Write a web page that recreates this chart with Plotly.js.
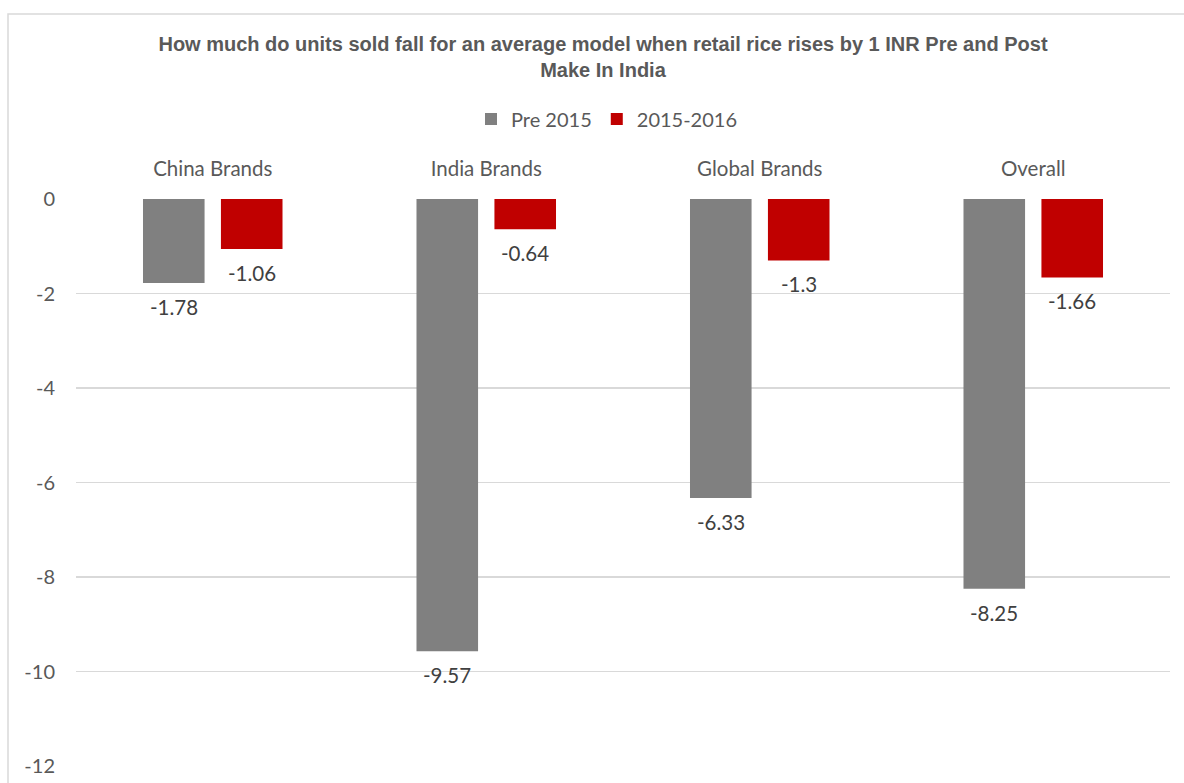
<!DOCTYPE html>
<html>
<head>
<meta charset="utf-8">
<script src="https://cdn.plot.ly/plotly-3.0.1.min.js"></script>
<style>
  html, body { margin: 0; padding: 0; background: #ffffff; }
  #chart { width: 1184px; height: 783px; }
</style>
</head>
<body>
<div id="chart"></div>
<script>
const categories = ["China Brands", "India Brands", "Global Brands", "Overall"];
const seriesNames = ["Pre 2015", "2015-2016"];
const pre2015 = [-1.78, -9.57, -6.33, -8.25];
const y2015_2016 = [-1.06, -0.64, -1.3, -1.66];
const yTickValues = [0, -2, -4, -6, -8, -10, -12];
const yTickLabels = ["0", "-2", "-4", "-6", "-8", "-10", "-12"];

const FONT = "Lato, 'Open Sans', sans-serif";
const labelFont = { family: FONT, size: 20.5, color: "#404040" };

const traces = [
  {
    type: "bar",
    name: seriesNames[0],
    x: categories,
    y: pre2015,
    marker: { color: "#808080" },
    hoverinfo: "x+y"
  },
  {
    type: "bar",
    name: seriesNames[1],
    x: categories,
    y: y2015_2016,
    marker: { color: "#C00000" },
    hoverinfo: "x+y"
  }
];

// data labels below each bar end, placed through the axes
const groupShift = 39;
const annotations = [];
[pre2015, y2015_2016].forEach(function (vals, si) {
  vals.forEach(function (v, i) {
    annotations.push({
      x: categories[i],
      y: v,
      xref: "x",
      yref: "y",
      text: String(v),
      showarrow: false,
      xanchor: "center",
      yanchor: "top",
      xshift: si === 0 ? -groupShift : groupShift,
      yshift: -10,
      font: labelFont
    });
  });
});

const layout = {
  width: 1184,
  height: 783,
  paper_bgcolor: "#ffffff",
  plot_bgcolor: "#ffffff",
  margin: { l: 76, r: 14, t: 199, b: 17 },
  barmode: "group",
  bargap: 0.43,
  bargroupgap: 0.21,
  title: {
    text: "How much do units sold fall for an average model when retail rice rises by 1 INR Pre and Post<br>Make In India",
    font: { family: "'Liberation Sans', Arial, sans-serif", size: 20, color: "#595959", weight: "bold" },
    x: 603 / 1184,
    xref: "container",
    xanchor: "center",
    y: 1 - 51 / 783,
    yref: "container",
    yanchor: "top"
  },
  showlegend: true,
  legend: {
    orientation: "h",
    xref: "container",
    yref: "container",
    x: 607 / 1184,
    xanchor: "center",
    y: 1 - 119 / 783,
    yanchor: "middle",
    font: { family: FONT, size: 20, color: "#595959" },
    itemwidth: 30,
    traceorder: "normal"
  },
  xaxis: {
    side: "top",
    showline: false,
    showgrid: false,
    zeroline: false,
    ticks: "",
    ticklabelstandoff: 18,
    tickfont: { family: FONT, size: 20.5, color: "#595959" },
    fixedrange: true
  },
  yaxis: {
    range: [-12, 0],
    tickvals: yTickValues,
    ticktext: yTickLabels,
    showgrid: true,
    gridcolor: "#d9d9d9",
    gridwidth: 1.5,
    zeroline: false,
    showline: false,
    ticks: "",
    ticklabelstandoff: 20,
    tickfont: { family: FONT, size: 20, color: "#595959" },
    fixedrange: true
  },
  annotations: annotations,
  shapes: [
    {
      type: "rect",
      xref: "paper",
      yref: "paper",
      x0: (8 - 76) / 1094,
      x1: (1200 - 76) / 1094,
      y0: (766 - 800) / 567,
      y1: (766 - 14) / 567,
      line: { color: "#d9d9d9", width: 1.5 },
      fillcolor: "rgba(0,0,0,0)",
      layer: "below"
    }
  ]
};

Plotly.newPlot("chart", traces, layout, { displayModeBar: false, staticPlot: true });
</script>
</body>
</html>
